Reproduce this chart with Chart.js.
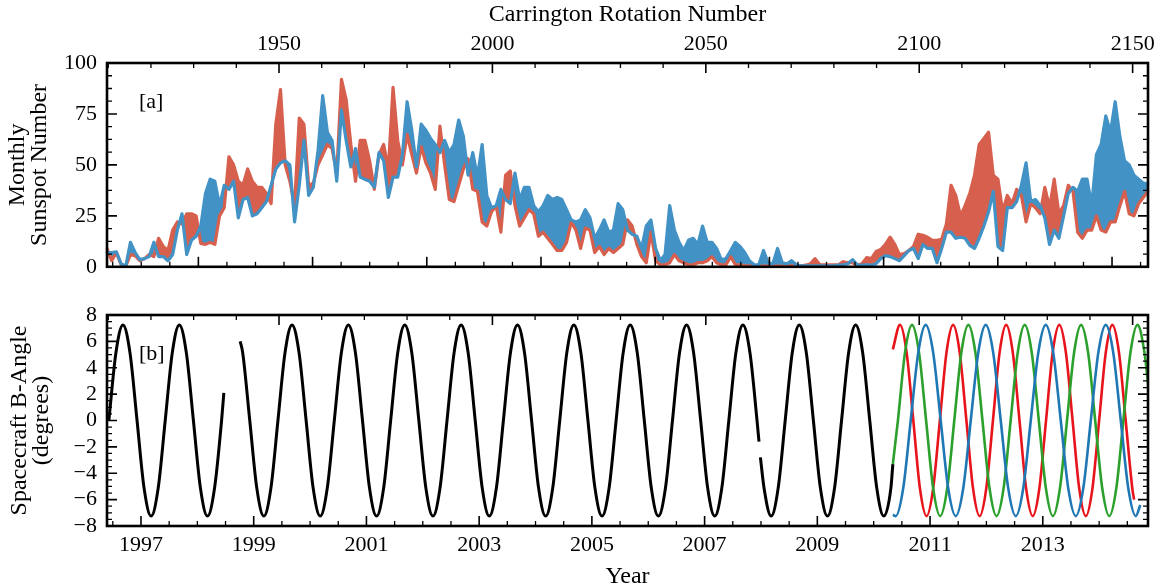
<!DOCTYPE html>
<html>
<head>
<meta charset="utf-8">
<script src="https://cdn.jsdelivr.net/npm/chart.js@4.4.1/dist/chart.umd.min.js"></script>
<style>
html,body{margin:0;padding:0;background:#fff;}
#wrap{position:relative;width:1168px;height:588px;overflow:hidden;}
.box{position:absolute;left:0;width:1168px;}
</style>
</head>
<body>
<div id="wrap">
  <div class="box" style="top:0;height:290px"><canvas id="c1"></canvas></div>
  <div class="box" style="top:290px;height:298px"><canvas id="c2"></canvas></div>
</div>
<script>
// ---------------- DATA ----------------
// Panel [a]: monthly hemispheric sunspot numbers, blue and red series
const sunspotBlue = [
  7, 7, 7.3, 1.5, 0.3, 12, 7, 3.5, 4, 5,
  12, 5, 5, 3, 6, 18, 26, 6, 13, 15,
  20, 36, 43, 42, 30, 40, 38, 42, 24, 33,
  34, 25, 26, 29, 32, 40, 48, 51, 52, 50,
  22, 40, 62, 35, 39, 57, 84, 66, 62, 42,
  77, 62, 49, 58, 44, 43, 42, 39, 56, 52,
  34, 44, 44, 55, 81, 67, 49, 70, 67, 63,
  60, 56, 62, 56, 60, 72, 64, 45, 56, 44,
  60, 35, 29, 30, 38, 33, 31, 46, 33, 39,
  39, 30, 27, 30, 35, 33, 34, 33, 28, 23,
  22, 23, 28, 24, 14, 18, 23, 17, 18, 31,
  28, 18, 16, 15, 9, 20, 23, 9, 3, 6,
  30, 18, 12, 8, 13, 14, 11, 20, 12, 12,
  9, 3.5, 4, 8, 12, 10, 7, 3, 1, 1,
  8, 2, 1.5, 9, 2, 1.5, 3, 1, 0.5, 0.5,
  0.5, 0.5, 0.5, 0.5, 0.5, 0.5, 0.8, 1, 1.5, 3.5,
  1, 0.8, 1, 0.8, 1.5, 4, 5.5, 5, 4, 3,
  5.5, 8, 9, 4, 11, 9, 9, 2, 9, 17,
  17, 14, 14.5, 14, 10.5, 9, 14, 20, 27, 37,
  10, 8, 29, 29, 32, 40, 51, 32, 33, 30,
  24, 11, 18, 14, 25, 36, 39, 37, 43, 43,
  30, 55, 60, 74, 66, 81, 64, 52, 50, 45,
  43, 41, 41
];
const sunspotRed = [
  9, 3, 7, 1, 0.3, 6, 5.5, 3, 4, 6,
  5, 14, 10, 8, 18, 22, 21, 26, 26, 25,
  11.5, 11, 12, 11, 25, 29, 54, 50, 42, 40,
  48, 42, 39, 39, 36, 31, 70, 87, 50, 42,
  30, 73, 70, 40, 41, 50, 55, 60, 58, 46,
  92, 82, 60, 42, 62, 62, 52, 38, 55, 60,
  48, 88, 62, 50, 65, 55, 46, 59, 51, 46,
  38, 69, 50, 33, 32, 40, 48, 53, 38, 37,
  22, 20, 27, 30, 17, 45, 47, 30, 20, 24,
  28, 26, 15, 17, 14, 11, 8, 8, 12, 22,
  18, 9, 19, 18, 7, 10, 6, 9, 7, 9,
  11, 23, 20, 11, 5, 2, 17, 3, 1, 1,
  2, 6, 3, 2, 1, 1, 2, 2, 3, 5,
  2, 1, 1, 5, 1, 1, 0.5, 0.5, 0.3, 0.3,
  0.3, 0.3, 0.3, 0.3, 0.3, 0.5, 0.5, 0.5, 0.5, 0.8,
  1.5, 4, 1, 1, 1, 1, 1, 2.5, 2, 2,
  0.8, 1.5, 4.5, 4, 7.5, 8.5, 11, 14.5, 11, 6,
  6.5, 8, 10, 16, 15.5, 14.5, 13, 13, 13.5, 21,
  40, 35, 25, 30, 36, 45, 60, 63, 66, 45,
  43, 27, 35, 31, 38, 35, 22, 31, 29, 26,
  39, 29, 43, 26, 30, 40, 37, 17, 14, 18,
  18, 25, 18, 17, 22, 22, 30, 37, 26, 25,
  31, 34, 37
];

// Panel [b]: spacecraft B-angle (degrees) vs year, [year, value]
const sohoB = [
  [1996.43,0],[1996.555,5.13],[1996.68,7.25],[1996.805,5.13],[1996.93,0],[1997.055,-5.13],[1997.18,-7.25],[1997.305,-5.13],
  [1997.43,0],[1997.555,5.13],[1997.68,7.25],[1997.805,5.13],[1997.93,0],[1998.055,-5.13],[1998.18,-7.25],[1998.305,-5.13],
  [1998.43,0],[1998.47,2.1],[1998.6,null],[1998.76,6.0],[1998.805,5.13],[1998.93,0],[1999.055,-5.13],[1999.18,-7.25],[1999.305,-5.13],
  [1999.43,0],[1999.555,5.13],[1999.68,7.25],[1999.805,5.13],[1999.93,0],[2000.055,-5.13],[2000.18,-7.25],[2000.305,-5.13],
  [2000.43,0],[2000.555,5.13],[2000.68,7.25],[2000.805,5.13],[2000.93,0],[2001.055,-5.13],[2001.18,-7.25],[2001.305,-5.13],
  [2001.43,0],[2001.555,5.13],[2001.68,7.25],[2001.805,5.13],[2001.93,0],[2002.055,-5.13],[2002.18,-7.25],[2002.305,-5.13],
  [2002.43,0],[2002.555,5.13],[2002.68,7.25],[2002.805,5.13],[2002.93,0],[2003.055,-5.13],[2003.18,-7.25],[2003.305,-5.13],
  [2003.43,0],[2003.555,5.13],[2003.68,7.25],[2003.805,5.13],[2003.93,0],[2004.055,-5.13],[2004.18,-7.25],[2004.305,-5.13],
  [2004.43,0],[2004.555,5.13],[2004.68,7.25],[2004.805,5.13],[2004.93,0],[2005.055,-5.13],[2005.18,-7.25],[2005.305,-5.13],
  [2005.43,0],[2005.555,5.13],[2005.68,7.25],[2005.805,5.13],[2005.93,0],[2006.055,-5.13],[2006.18,-7.25],[2006.305,-5.13],
  [2006.43,0],[2006.555,5.13],[2006.68,7.25],[2006.805,5.13],[2006.93,0],[2007.055,-5.13],[2007.18,-7.25],[2007.305,-5.13],
  [2007.43,0],[2007.555,5.13],[2007.68,7.25],[2007.805,5.13],[2007.93,0],[2007.965,-1.6],[2007.975,null],[2007.99,-2.8],[2008.055,-5.13],[2008.18,-7.25],[2008.305,-5.13],
  [2008.43,0],[2008.555,5.13],[2008.68,7.25],[2008.805,5.13],[2008.93,0],[2009.055,-5.13],[2009.18,-7.25],[2009.305,-5.13],
  [2009.43,0],[2009.555,5.13],[2009.68,7.25],[2009.805,5.13],[2009.93,0],[2010.055,-5.13],[2010.18,-7.25],[2010.305,-5.13],
  [2010.34,-3.3]
];
const sdoB = [
  [2010.34,-3.3],[2010.43,0],[2010.555,5.13],[2010.68,7.25],[2010.805,5.13],[2010.93,0],[2011.055,-5.13],[2011.18,-7.25],[2011.305,-5.13],
  [2011.43,0],[2011.555,5.13],[2011.68,7.25],[2011.805,5.13],[2011.93,0],[2012.055,-5.13],[2012.18,-7.25],[2012.305,-5.13],
  [2012.43,0],[2012.555,5.13],[2012.68,7.25],[2012.805,5.13],[2012.93,0],[2013.055,-5.13],[2013.18,-7.25],[2013.305,-5.13],
  [2013.43,0],[2013.555,5.13],[2013.68,7.25],[2013.805,5.13],[2013.93,0],[2014.055,-5.13],[2014.18,-7.25],[2014.305,-5.13],
  [2014.43,0],[2014.555,5.13],[2014.68,7.25],[2014.805,5.13],[2014.88,2.3]
];
const stereoAB = [
  [2010.34,5.4],[2010.467,7.25],[2010.585,5.13],[2010.703,0],[2010.82,-5.13],[2010.938,-7.25],[2011.056,-5.13],[2011.174,0],[2011.291,5.13],
  [2011.409,7.25],[2011.527,5.13],[2011.645,0],[2011.762,-5.13],[2011.88,-7.25],[2011.998,-5.13],[2012.116,0],[2012.233,5.13],
  [2012.351,7.25],[2012.469,5.13],[2012.587,0],[2012.704,-5.13],[2012.822,-7.25],[2012.94,-5.13],[2013.058,0],[2013.175,5.13],
  [2013.293,7.25],[2013.411,5.13],[2013.529,0],[2013.646,-5.13],[2013.764,-7.25],[2013.882,-5.13],[2014.0,0],[2014.117,5.13],
  [2014.235,7.25],[2014.353,5.13],[2014.471,0],[2014.588,-5.13],[2014.62,-6.0]
];
const stereoBB = [
  [2010.34,-7.15],[2010.391,-7.25],[2010.524,-5.13],[2010.657,0],[2010.79,5.13],[2010.923,7.25],[2011.056,5.13],[2011.189,0],[2011.322,-5.13],
  [2011.456,-7.25],[2011.589,-5.13],[2011.722,0],[2011.855,5.13],[2011.988,7.25],[2012.121,5.13],[2012.254,0],[2012.387,-5.13],
  [2012.521,-7.25],[2012.654,-5.13],[2012.787,0],[2012.92,5.13],[2013.053,7.25],[2013.186,5.13],[2013.319,0],[2013.452,-5.13],
  [2013.586,-7.25],[2013.719,-5.13],[2013.852,0],[2013.985,5.13],[2014.118,7.25],[2014.251,5.13],[2014.384,0],[2014.517,-5.13],
  [2014.651,-7.25],[2014.73,-6.4]
];

// Tick labels
const crTickLabels = [1950, 2000, 2050, 2100, 2150];
const sunspotTicks = [0, 25, 50, 75, 100];
const yearTickLabels = [1997, 1999, 2001, 2003, 2005, 2007, 2009, 2011, 2013];
const angleTicks = [-8, -6, -4, -2, 0, 2, 4, 6, 8];

// ---------------- STYLE / AXIS RANGES ----------------
const FONT = "'Liberation Serif', 'Times New Roman', serif";
const BLUE = '#4292c6', RED = '#d6604d';
const BLUE_DK = 'rgba(40,100,150,0.75)', RED_DK = 'rgba(160,55,40,0.75)';
const CR_MIN = 1909.7, CR_MAX = 2153.6;
const YR_A_MIN = 1996.40, YR_A_MAX = 2014.63;
const YR_B_MIN = 1996.397, YR_B_MAX = 2014.867;

Chart.defaults.font.family = FONT;
Chart.defaults.color = '#000';

// month category labels for panel [a]
const months = [];
for (let i = 0; i < sunspotBlue.length; i++) {
  const m = 5 + i; months.push((1996 + Math.floor(m / 12)) + '-' + String(m % 12 + 1).padStart(2, '0'));
}

// minor tick helpers (axis decoration only)
function range(a, b, st) { const r = []; for (let v = a; v <= b + 1e-9; v += st) r.push(Math.round(v * 1000) / 1000); return r; }
const crMinor = range(1910, 2150, 10).filter(v => v % 50 !== 0);
const yrEvenMajor = range(1996, 2014, 2);
const yrMinorA = range(1996.5, 2014.5, 0.5).filter(v => !yrEvenMajor.includes(v));
const yrMinorB = range(1996.5, 2014.5, 0.5).filter(v => !yearTickLabels.includes(v));
const ssMinor = range(0, 100, 6.25).filter(v => v % 25 !== 0);
const angMinor = range(-8, 8, 0.5).filter(v => v % 2 !== 0);

const tickFont = {family: FONT, size: 22};
const titleFont = {family: FONT, size: 24, lineHeight: 0.95};

const innerTicks = {
  id: 'innerTicks',
  afterDraw(chart, args, opts) {
    const ctx = chart.ctx, a = chart.chartArea;
    ctx.save();
    ctx.strokeStyle = '#000';
    for (const sp of opts.specs) {
      const s = chart.scales[sp.scale];
      const groups = [[sp.major, 10, 1.6], [sp.minor, 5, 1.3]];
      for (const [vals, len, w] of groups) {
        ctx.lineWidth = w;
        for (const v of vals) {
          if (v < s.min - 1e-9 || v > s.max + 1e-9) continue;
          const p = s.getPixelForValue(v);
          ctx.beginPath();
          for (const side of sp.sides) {
            if (side === 'left') { ctx.moveTo(a.left, p); ctx.lineTo(a.left + len, p); }
            if (side === 'right') { ctx.moveTo(a.right, p); ctx.lineTo(a.right - len, p); }
            if (side === 'top') { ctx.moveTo(p, a.top); ctx.lineTo(p, a.top + len); }
            if (side === 'bottom') { ctx.moveTo(p, a.bottom); ctx.lineTo(p, a.bottom - len); }
          }
          ctx.stroke();
        }
      }
    }
    ctx.lineWidth = 2.6;
    ctx.strokeRect(a.left, a.top, a.right - a.left, a.bottom - a.top);
    if (opts.label) {
      ctx.fillStyle = '#000';
      ctx.font = '22px ' + FONT;
      ctx.textBaseline = 'middle';
      ctx.fillText(opts.label, a.left + 32, a.top + 39);
    }
    ctx.restore();
  }
};

const numLabel = v => (v < 0 ? '\u2212' + Math.abs(v) : String(v));

// ---------------- PANEL A ----------------
const ssLine = (data, color, w, fill) => ({data, borderColor: color, borderWidth: w, pointRadius: 0, tension: 0,
  borderJoinStyle: 'round', borderCapStyle: 'round', fill, xAxisID: 'x', yAxisID: 'y'});

new Chart(document.getElementById('c1'), {
  type: 'line',
  data: {
    labels: months,
    datasets: [
      ssLine(sunspotBlue, BLUE, 3.2, {target: 1, above: BLUE, below: RED}),
      ssLine(sunspotRed, RED, 3.2, false),
      ssLine(sunspotBlue, BLUE_DK, 0.8, false),
      ssLine(sunspotRed, RED_DK, 0.8, false)
    ]
  },
  options: {
    responsive: true, maintainAspectRatio: false, animation: false,
    layout: {padding: {left: 0, right: 20, top: 0, bottom: 0}},
    plugins: {
      legend: {display: false}, tooltip: {enabled: false},
      filler: {drawTime: 'beforeDatasetsDraw'},
      innerTicks: {label: '[a]', specs: [
        {scale: 'y', sides: ['left', 'right'], major: sunspotTicks, minor: ssMinor},
        {scale: 'xc', sides: ['top'], major: crTickLabels, minor: crMinor},
        {scale: 'xy', sides: ['bottom'], major: yrEvenMajor, minor: yrMinorA}
      ]}
    },
    scales: {
      x: {type: 'category', display: false, offset: false},
      xc: {type: 'linear', position: 'top', min: CR_MIN, max: CR_MAX,
        afterBuildTicks: s => { s.ticks = crTickLabels.map(v => ({value: v})); },
        ticks: {callback: v => String(v), font: tickFont, color: '#000', padding: 6, maxRotation: 0, autoSkip: false},
        grid: {display: false, drawTicks: false}, border: {display: false},
        title: {display: true, text: 'Carrington Rotation Number', font: titleFont, color: '#000', padding: {top: 3, bottom: 0}},
        afterFit: s => { s.height = 63; }},
      xy: {type: 'linear', position: 'bottom', min: YR_A_MIN, max: YR_A_MAX,
        ticks: {display: false}, grid: {display: false, drawTicks: false}, border: {display: false},
        afterFit: s => { s.height = 16; }},
      y: {type: 'linear', position: 'left', min: 0, max: 100,
        afterBuildTicks: s => { s.ticks = sunspotTicks.map(v => ({value: v})); },
        ticks: {callback: v => String(v), font: tickFont, color: '#000', padding: 10, autoSkip: false},
        grid: {display: false, drawTicks: false}, border: {display: false},
        title: {display: true, text: ['Monthly', 'Sunspot Number'], font: titleFont, color: '#000', padding: {top: 6, bottom: 0}},
        afterFit: s => { s.width = 107; }}
    }
  },
  plugins: [innerTicks]
});

// ---------------- PANEL B ----------------
const pts = arr => arr.map(([x, y]) => ({x, y}));
const lineDs = (arr, color, w) => ({data: pts(arr), borderColor: color, borderWidth: w, pointRadius: 0,
  cubicInterpolationMode: 'monotone', spanGaps: false, fill: false, xAxisID: 'x', yAxisID: 'y'});

new Chart(document.getElementById('c2'), {
  type: 'line',
  data: {
    datasets: [
      lineDs(stereoBB, '#1f77b4', 2.6),
      lineDs(sdoB, '#2ca02c', 2.6),
      lineDs(stereoAB, '#e8141c', 2.6),
      lineDs(sohoB, '#000000', 3)
    ]
  },
  options: {
    responsive: true, maintainAspectRatio: false, animation: false,
    layout: {padding: {left: 0, right: 20, top: 0, bottom: 0}},
    plugins: {
      legend: {display: false}, tooltip: {enabled: false},
      innerTicks: {label: '[b]', specs: [
        {scale: 'y', sides: ['left', 'right'], major: angleTicks, minor: angMinor},
        {scale: 'xc', sides: ['top'], major: crTickLabels, minor: crMinor},
        {scale: 'x', sides: ['bottom'], major: yearTickLabels, minor: yrMinorB}
      ]}
    },
    scales: {
      x: {type: 'linear', position: 'bottom', min: YR_B_MIN, max: YR_B_MAX,
        afterBuildTicks: s => { s.ticks = yearTickLabels.map(v => ({value: v})); },
        ticks: {callback: v => String(v), font: tickFont, color: '#000', padding: 6, maxRotation: 0, autoSkip: false},
        grid: {display: false, drawTicks: false}, border: {display: false},
        title: {display: true, text: 'Year', font: titleFont, color: '#000', padding: {top: 0, bottom: 0}},
        afterFit: s => { s.height = 62; }},
      xc: {type: 'linear', position: 'top', min: CR_MIN, max: CR_MAX,
        ticks: {display: false}, grid: {display: false, drawTicks: false}, border: {display: false},
        afterFit: s => { s.height = 25; }},
      y: {type: 'linear', position: 'left', min: -8, max: 8,
        afterBuildTicks: s => { s.ticks = angleTicks.map(v => ({value: v})); },
        ticks: {callback: v => numLabel(v), font: tickFont, color: '#000', padding: 10, autoSkip: false},
        grid: {display: false, drawTicks: false}, border: {display: false},
        title: {display: true, text: ['Spacecraft B-Angle', '(degrees)'], font: titleFont, color: '#000', padding: {top: 8, bottom: 0}},
        afterFit: s => { s.width = 107; }}
    }
  },
  plugins: [innerTicks]
});
</script>
</body>
</html>
